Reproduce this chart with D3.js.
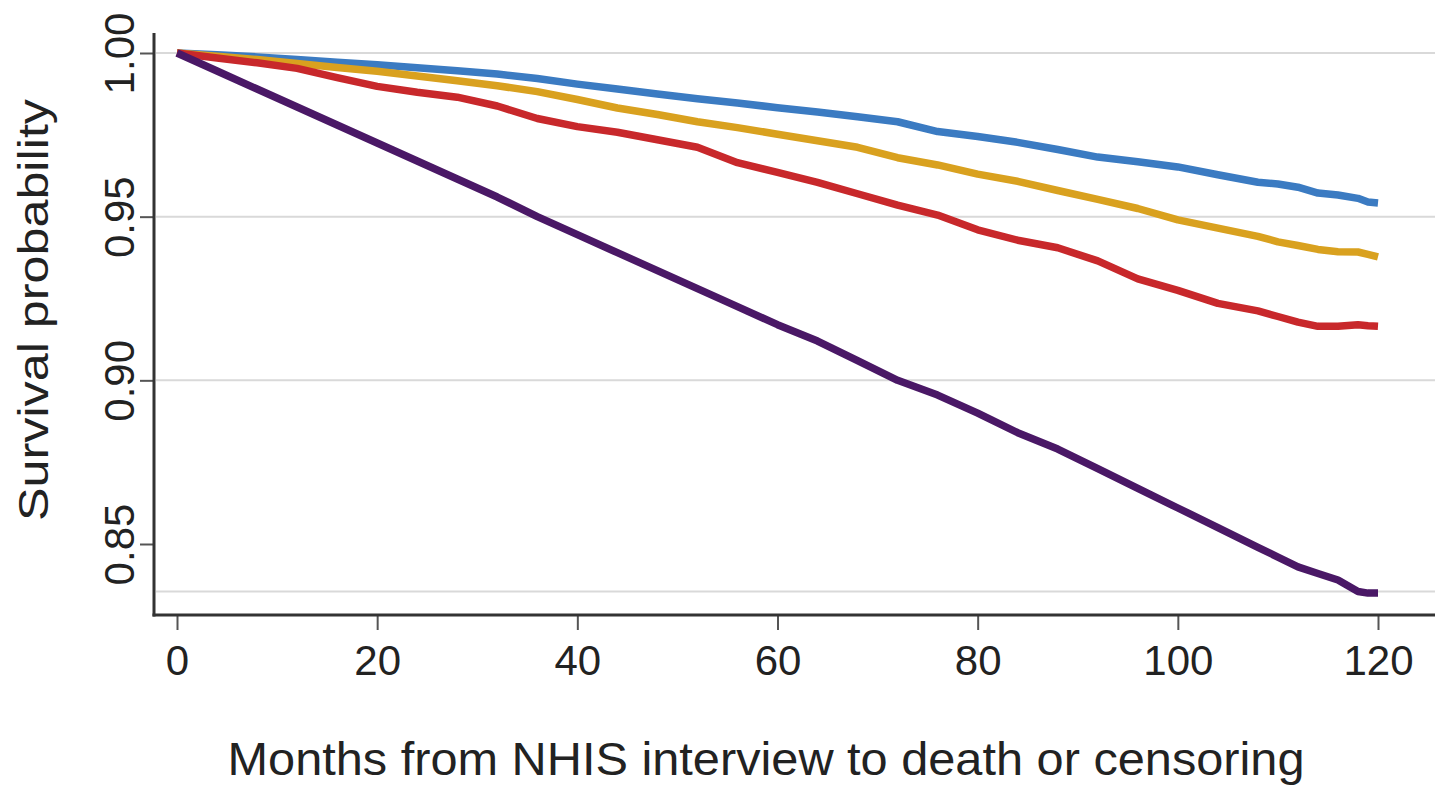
<!DOCTYPE html>
<html>
<head>
<meta charset="utf-8">
<script src="https://cdn.jsdelivr.net/npm/d3@7"></script>
<style>
  html, body { margin: 0; padding: 0; background: #fff; }
  svg { display: block; font-family: "Liberation Sans", Arial, Helvetica, sans-serif; }
</style>
</head>
<body>
<svg id="chart" width="1435" height="791"></svg>
<script>
// ---- data ----
const months = [0, 4, 8, 12, 16, 20, 24, 28, 32, 36, 40, 44, 48, 52, 56, 60, 64, 68, 72, 76, 80, 84, 88, 92, 96, 100, 104, 108, 110, 112, 114, 116, 118, 119, 120];

const blueSeries = [1.000, 0.9995, 0.9988, 0.998, 0.9972, 0.9964, 0.9955, 0.9946, 0.9936, 0.9922, 0.9905, 0.989, 0.9875, 0.986, 0.9847, 0.9833, 0.982, 0.9805, 0.979, 0.976, 0.9745, 0.9727, 0.9705, 0.9682, 0.9668, 0.9652, 0.9628, 0.9605, 0.960, 0.959, 0.9572, 0.9566, 0.9556, 0.9545, 0.9542];

const goldSeries = [1.000, 0.999, 0.998, 0.9968, 0.9956, 0.9944, 0.993, 0.9915, 0.990, 0.9882, 0.9858, 0.9832, 0.9812, 0.979, 0.9772, 0.9752, 0.9732, 0.9712, 0.968, 0.9658, 0.963, 0.9608, 0.958, 0.9553, 0.9525, 0.949, 0.9465, 0.944, 0.9423, 0.9412, 0.940, 0.9393, 0.9392, 0.9385, 0.9377];

const redSeries = [1.000, 0.9985, 0.997, 0.9953, 0.9925, 0.9898, 0.988, 0.9865, 0.9838, 0.980, 0.9775, 0.9758, 0.9735, 0.9712, 0.9665, 0.9635, 0.9605, 0.957, 0.9535, 0.9505, 0.946, 0.9428, 0.9405, 0.9365, 0.931, 0.9275, 0.9235, 0.9212, 0.9195, 0.9178, 0.9165, 0.9165, 0.917, 0.9167, 0.9165];

const purpleSeries = [1.000, 0.9945, 0.989, 0.9835, 0.978, 0.9725, 0.967, 0.9615, 0.956, 0.950, 0.9445, 0.939, 0.9335, 0.928, 0.9225, 0.917, 0.912, 0.906, 0.900, 0.8955, 0.890, 0.884, 0.879, 0.873, 0.867, 0.861, 0.855, 0.849, 0.846, 0.843, 0.841, 0.839, 0.8355, 0.835, 0.835];

const seriesNames = ["blue", "gold", "red", "purple"];
const seriesColors = ["#3b7bc2", "#d9a11f", "#c8282b", "#4a1866"];
const seriesValues = [blueSeries, goldSeries, redSeries, purpleSeries];

const xTickValues = [0, 20, 40, 60, 80, 100, 120];
const yTickValues = [0.85, 0.90, 0.95, 1.00];
const yTickLabels = ["0.85", "0.90", "0.95", "1.00"];
const gridValues = [1.00, 0.95, 0.90, 0.8355];

const xTitle = "Months from NHIS interview to death or censoring";
const yTitle = "Survival probability";

// ---- layout ----
const svg = d3.select("#chart");
const axisX0 = 154;   // left axis position
const axisY0 = 615;   // bottom axis position

const x = d3.scaleLinear().domain([0, 120]).range([177, 1378]);
const y = d3.scaleLinear().domain([0.85, 1.00]).range([544, 53]);

// gridlines
svg.append("g").selectAll("line").data(gridValues).join("line")
  .attr("x1", axisX0 + 2).attr("x2", 1435)
  .attr("y1", d => y(d)).attr("y2", d => y(d))
  .attr("stroke", "#d9d9d9").attr("stroke-width", 2);

// lines
const lineGen = d3.line()
  .x((d, i) => x(months[i]))
  .y(d => y(d))
  .curve(d3.curveLinear);

svg.append("g").selectAll("path").data(seriesValues).join("path")
  .attr("d", d => lineGen(d))
  .attr("fill", "none")
  .attr("stroke", (d, i) => seriesColors[i])
  .attr("stroke-width", 7.5)
  .attr("stroke-linejoin", "round")
  .attr("stroke-linecap", "butt");

// x axis
const xAxis = d3.axisBottom(x).tickValues(xTickValues).tickSize(15).tickSizeOuter(0).tickFormat(d3.format("d"));
const gx = svg.append("g").attr("transform", `translate(0,${axisY0})`).call(xAxis);
gx.select(".domain").remove();
gx.selectAll(".tick line").attr("stroke", "#555").attr("stroke-width", 2);
gx.selectAll(".tick text").attr("fill", "#222").attr("font-size", 42)
  .attr("y", 60).attr("dy", 0);
gx.append("line").attr("x1", axisX0 - 1.5).attr("x2", 1435).attr("y1", 0).attr("y2", 0)
  .attr("stroke", "#333").attr("stroke-width", 3);

// y axis
const yAxis = d3.axisLeft(y).tickValues(yTickValues).tickSize(14).tickSizeOuter(0)
  .tickFormat((d, i) => yTickLabels[i]);
const gy = svg.append("g").attr("transform", `translate(${axisX0},0)`).call(yAxis);
gy.select(".domain").remove();
gy.selectAll(".tick line").attr("stroke", "#555").attr("stroke-width", 2);
gy.selectAll(".tick text").attr("fill", "#222").attr("font-size", 42)
  .attr("x", 0).attr("dy", 0)
  .attr("text-anchor", "middle")
  .attr("transform", "translate(-20,0) rotate(-90)");
gy.append("line").attr("x1", 0).attr("x2", 0).attr("y1", 33).attr("y2", axisY0 + 1.5)
  .attr("stroke", "#333").attr("stroke-width", 3);

// titles
svg.append("text")
  .attr("x", 766).attr("y", 775)
  .attr("text-anchor", "middle")
  .attr("font-size", 46).attr("fill", "#222")
  .attr("textLength", 1077).attr("lengthAdjust", "spacingAndGlyphs")
  .text(xTitle);

svg.append("text")
  .attr("transform", "translate(48,310) rotate(-90)")
  .attr("text-anchor", "middle")
  .attr("font-size", 42).attr("fill", "#222")
  .attr("textLength", 422).attr("lengthAdjust", "spacingAndGlyphs")
  .text(yTitle);
</script>
</body>
</html>
